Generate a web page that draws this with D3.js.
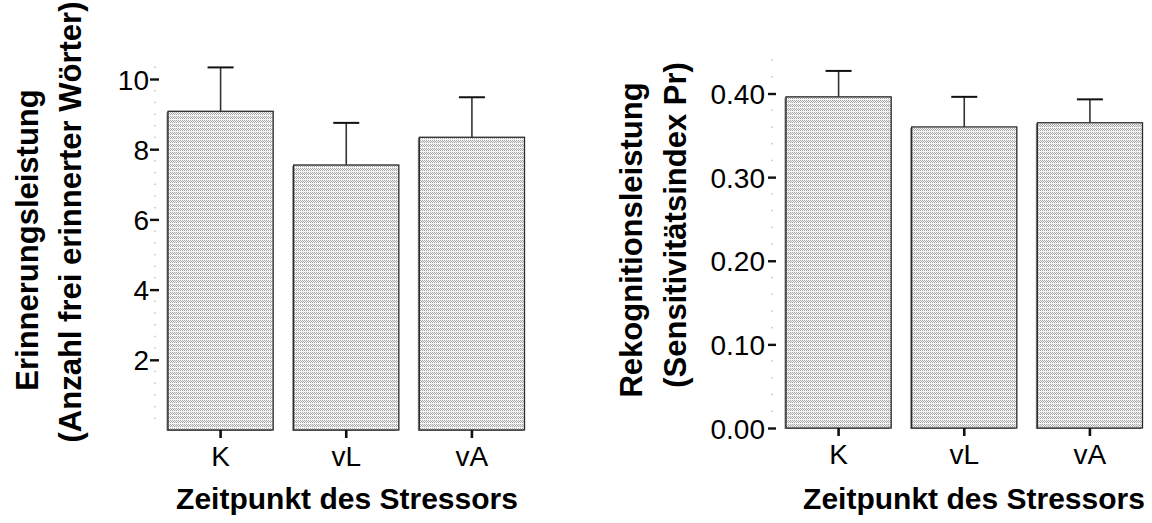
<!DOCTYPE html>
<html>
<head>
<meta charset="utf-8">
<script src="https://cdn.jsdelivr.net/npm/d3@7"></script>
<style>
  body { margin: 0; background: #fff; }
  text { font-family: Arial, "Liberation Sans", sans-serif; fill: #000; }
</style>
</head>
<body>
<div id="chart"></div>
<script>
// Data
var categories = ["K", "vL", "vA"];

var recallMeans = [9.08, 7.55, 8.34];
var recallErrors = [1.25, 1.20, 1.14];
var recallTicks = [2, 4, 6, 8, 10];

var recogMeans = [0.396, 0.360, 0.365];
var recogErrors = [0.031, 0.036, 0.028];
var recogTicks = [0.00, 0.10, 0.20, 0.30, 0.40];

var xTitle = "Zeitpunkt des Stressors";

var svgWidth = 1152;
var svgHeight = 523;

var svg = d3.select("#chart")
    .append("svg")
    .attr("width", svgWidth)
    .attr("height", svgHeight);

// stippled fill used by the bars
var defs = svg.append("defs");
var pat = defs.append("pattern")
    .attr("id", "stipple")
    .attr("patternUnits", "userSpaceOnUse")
    .attr("width", 4)
    .attr("height", 4);
pat.append("rect").attr("width", 4).attr("height", 4).attr("fill", "#f4f4f4");
[[0, 0], [2, 0], [1, 1], [3, 1], [0, 2], [2, 2]].forEach(function(p) {
    pat.append("rect")
        .attr("x", p[0]).attr("y", p[1])
        .attr("width", 1).attr("height", 1)
        .attr("fill", "#a8a8a8");
});

function drawPanel(opt) {
    var g = svg.append("g");

    var xScale = d3.scaleBand()
        .domain(categories)
        .range(opt.xRange)
        .paddingInner(0.163)
        .paddingOuter(0);

    var yScale = d3.scaleLinear()
        .domain([0, opt.yTop])
        .range([opt.base, opt.yTopPx]);

    // dotted axis line (minor dots)
    g.selectAll(".minor")
        .data(opt.minor)
        .enter()
        .append("rect")
        .attr("x", opt.axisX - 0.75)
        .attr("y", d => yScale(d) - 0.75)
        .attr("width", 1.5)
        .attr("height", 1.5)
        .attr("fill", "#c4c4c4");

    // y axis ticks and labels
    var leftAxis = d3.axisLeft(yScale)
        .tickValues(opt.ticks)
        .tickFormat(opt.fmt)
        .tickSize(opt.tickLen)
        .tickPadding(opt.tickPad);

    var ya = g.append("g")
        .attr("transform", `translate(${opt.tickRight}, 0)`)
        .call(leftAxis);
    ya.select(".domain").remove();
    ya.selectAll("line").attr("stroke", "#111").attr("stroke-width", 2.4);
    ya.selectAll("text")
        .style("font-size", "28px")
        .attr("fill", "#000")
        .attr("dy", "0.36em");

    // bars with a thin shadow to the left and bottom
    g.selectAll(".shadow")
        .data(opt.means)
        .enter()
        .append("rect")
        .attr("x", (d, i) => xScale(categories[i]) - 1.5)
        .attr("y", d => yScale(d) + 1)
        .attr("width", xScale.bandwidth())
        .attr("height", d => opt.base - yScale(d))
        .attr("fill", "#8a8a8a");

    g.selectAll(".bar")
        .data(opt.means)
        .enter()
        .append("rect")
        .attr("x", (d, i) => xScale(categories[i]))
        .attr("y", d => yScale(d))
        .attr("width", xScale.bandwidth())
        .attr("height", d => opt.base - yScale(d))
        .attr("fill", "url(#stipple)")
        .attr("stroke", "#2a2a2a")
        .attr("stroke-width", 1.3);

    // error bars (upper only)
    var cap = 13;
    opt.means.forEach(function(m, i) {
        var cx = xScale(categories[i]) + xScale.bandwidth() / 2;
        var top = yScale(m + opt.errors[i]);
        g.append("line")
            .attr("x1", cx).attr("x2", cx)
            .attr("y1", yScale(m)).attr("y2", top)
            .attr("stroke", "#333")
            .attr("stroke-width", 1.6);
        g.append("line")
            .attr("x1", cx - cap).attr("x2", cx + cap)
            .attr("y1", top).attr("y2", top)
            .attr("stroke", "#111")
            .attr("stroke-width", 2);
    });

    // x axis ticks and category labels
    var bottomAxis = d3.axisBottom(xScale)
        .tickSize(8)
        .tickPadding(8);
    var xa = g.append("g")
        .attr("transform", `translate(0, ${opt.base})`)
        .call(bottomAxis);
    xa.select(".domain").remove();
    xa.selectAll("line").attr("stroke", "#111").attr("stroke-width", 2.6);
    xa.selectAll("text")
        .style("font-size", "28px")
        .attr("fill", "#000");

    // x title
    g.append("text")
        .attr("x", opt.xTitleX)
        .attr("y", 509)
        .attr("text-anchor", "middle")
        .style("font-size", "30px")
        .style("font-weight", "bold")
        .text(xTitle);

    // y title, two lines
    opt.yTitle.forEach(function(t) {
        g.append("text")
            .attr("transform", `translate(${t.x}, ${t.y}) rotate(-90)`)
            .attr("text-anchor", "middle")
            .style("font-size", "31px")
            .style("font-weight", "bold")
            .text(t.text);
    });
}

drawPanel({
    means: recallMeans,
    errors: recallErrors,
    ticks: recallTicks,
    fmt: d3.format("d"),
    minor: d3.range(1, 32).map(d => d / 3).filter(d => d % 2 > 0.1 && d % 2 < 1.9),
    xRange: [168, 524.5],
    yTop: 10,
    base: 430,
    yTopPx: 79,
    axisX: 155,
    tickRight: 159,
    tickLen: 9,
    tickPad: 1,
    xTitleX: 347,
    yTitle: [
        {text: "Erinnerungsleistung", x: 38, y: 240},
        {text: "(Anzahl frei erinnerter Wörter)", x: 81, y: 222}
    ]
});

drawPanel({
    means: recogMeans,
    errors: recogErrors,
    ticks: recogTicks,
    fmt: d3.format(".2f"),
    minor: d3.range(1, 23).filter(d => d % 5 !== 0).map(d => d * 0.02),
    xRange: [786, 1142.5],
    yTop: 0.4,
    base: 428,
    yTopPx: 93.5,
    axisX: 772,
    tickRight: 776,
    tickLen: 8,
    tickPad: 3,
    xTitleX: 974,
    yTitle: [
        {text: "Rekognitionsleistung", x: 642, y: 240},
        {text: "(Sensitivitätsindex Pr)", x: 686, y: 225}
    ]
});
</script>
</body>
</html>
